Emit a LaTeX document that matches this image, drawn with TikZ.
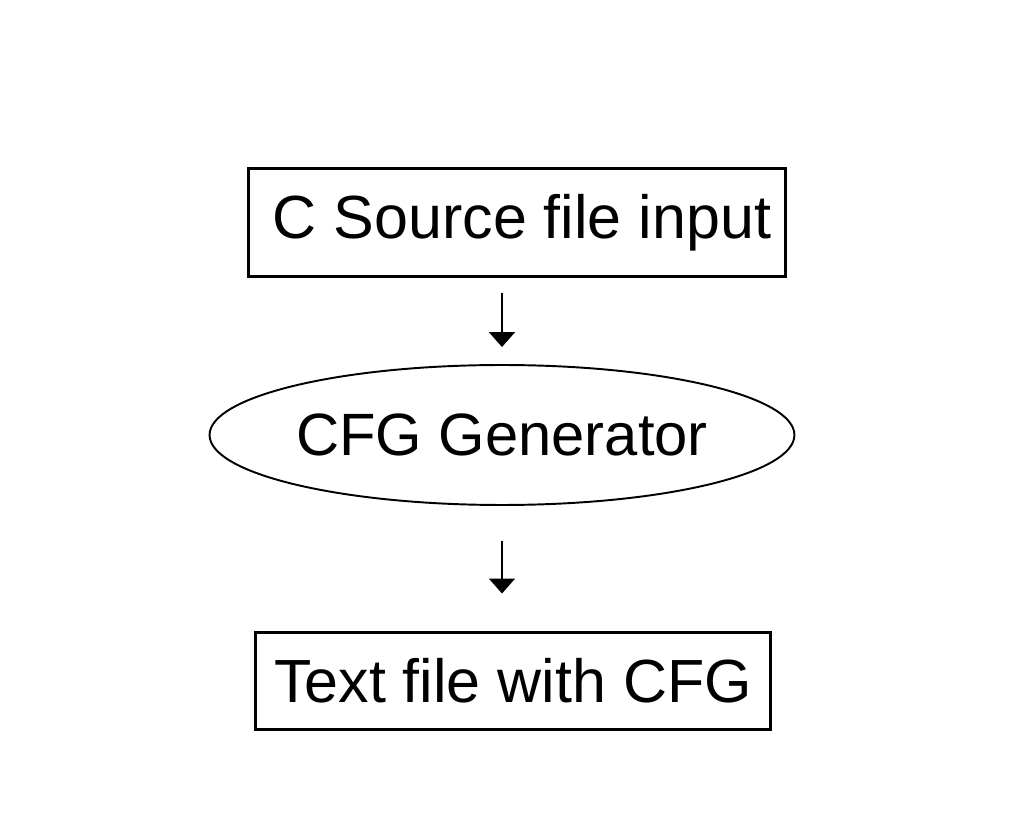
\documentclass[tikz,border=0pt]{standalone}
\usepackage{fontspec}
\setmainfont{Liberation Sans}
\usepackage{tikz}
\usetikzlibrary{shapes,arrows.meta,positioning,calc}

\begin{document}
\begin{tikzpicture}[x=0.02cm, y=-0.02cm,
            stage/.style={rectangle, draw, line width=1.7pt, inner sep=0pt, font=\fontsize{34.7}{40}\selectfont},
            tool/.style={ellipse, draw, line width=1.1pt, inner sep=0pt, minimum width=11.7cm, minimum height=2.8cm, font=\fontsize{34}{40}\selectfont},
            flow/.style={-{Triangle[width=0.52cm,length=0.3cm]}, line width=1.1pt}]

            \useasboundingbox (0,0) rectangle (1029,817);

            % Nodes
            \node[stage, minimum width=10.76cm, minimum height=2.18cm] (source) at (517,222.5) {\hspace*{0.2cm}C Source file input};
            \node[tool] (gen) at (502,435) {CFG Generator};
            \node[stage, minimum width=10.32cm, minimum height=1.96cm] (output) at (513,681) {Text file with CFG};

            % Edges
            \draw[flow, shorten <=0.3cm, shorten >=0.34cm] (source.south -| gen.center) -- (gen.north);
            \draw[flow, shorten <=0.7cm, shorten >=0.74cm] (gen.south) -- (output.north -| gen.center);
        \end{tikzpicture}
\end{document}
